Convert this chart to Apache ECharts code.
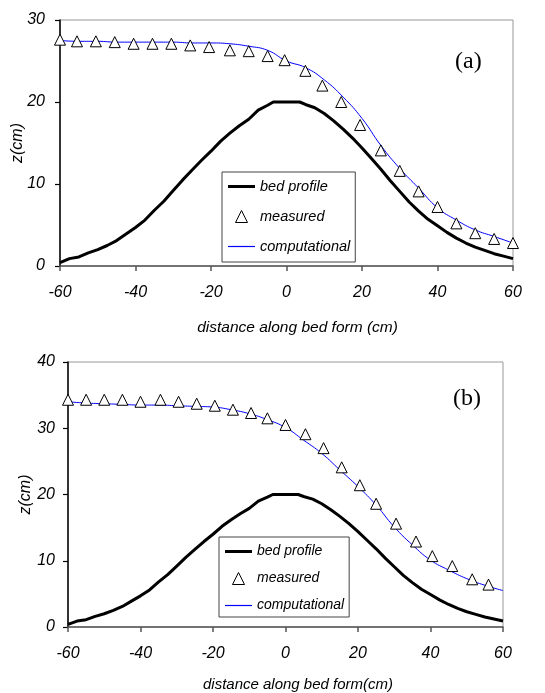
<!DOCTYPE html>
<html>
<head>
<meta charset="utf-8">
<script src="https://cdn.jsdelivr.net/npm/echarts@6/dist/echarts.min.js"></script>
<style>
html,body{margin:0;padding:0;background:#fff;}
#c{width:545px;height:693px;}
</style>
</head>
<body>
<div id="c"></div>
<script>
// ---- data ----
const xTicks = [-60, -40, -20, 0, 20, 40, 60];
const yTicksA = [0, 10, 20, 30];
const yTicksB = [0, 10, 20, 30, 40];

const bedX = [-60,-57.5,-55,-52.5,-50,-47.5,-45,-42.5,-40,-37.5,-35,-32.5,-30,-27.5,-25,-22.5,-20,-17.5,-15,-12.5,-10,-7.5,-5,-3.5,0,3.5,5,7.5,10,12.5,15,17.5,20,22.5,25,27.5,30,32.5,35,37.5,40,42.5,45,47.5,50,52.5,55,57.5,60];
const bedZ = [0.4,0.9,1.1,1.6,2.0,2.5,3.1,3.9,4.7,5.6,6.8,7.9,9.2,10.5,11.7,12.9,14.0,15.2,16.2,17.1,17.9,19.0,19.6,20,20,20,19.7,19.3,18.6,17.7,16.7,15.6,14.4,13.1,11.8,10.4,9.1,7.8,6.7,5.7,4.9,4.1,3.4,2.8,2.3,1.9,1.5,1.2,0.9];

const measXa = [-60,-55.5,-50.5,-45.5,-40.5,-35.5,-30.5,-25.5,-20.5,-15,-10,-5,-0.5,5,9.5,14.5,19.5,25,30,35,40,45,50,55,60];
const measZa = [27.6,27.4,27.4,27.3,27.1,27.1,27.1,26.9,26.7,26.3,26.2,25.6,25.1,23.8,22.0,20.0,17.2,14.1,11.6,9.1,7.2,5.2,4.0,3.3,2.8];

const compXa = [-60,-55,-50,-45,-40,-35,-30,-25,-20,-15,-10,-5,0,5,10,15,20,25,30,35,40,45,50,55,60];
const compZa = [27.5,27.4,27.4,27.3,27.3,27.3,27.3,27.2,27.2,27.1,26.8,26.3,25.0,24.2,22.7,20.6,18.0,14.7,11.9,9.5,7.1,5.6,4.4,3.6,2.8];

const measXb = [-60,-55,-50,-45,-40,-34.5,-29.5,-24.5,-19.5,-14.5,-9.5,-5,0,5.5,10.5,15.5,20.5,25,30.5,36,40.5,46,51.5,56];
const measZb = [34.3,34.3,34.3,34.3,34.0,34.3,34.0,33.7,33.4,32.8,32.3,31.5,30.5,29.1,27.0,24.1,21.4,18.6,15.6,12.9,10.7,9.2,7.2,6.4];

const compXb = [-60,-55,-50,-45,-40,-35,-30,-25,-20,-15,-10,-5,0,5,10,15,20,25,30,35,40,45,50,55,60];
const compZb = [34.0,33.8,33.7,33.6,33.5,33.5,33.4,33.3,33.2,32.8,32.2,31.3,30.1,28.2,26.2,23.7,21.2,18.4,15.1,12.4,10.1,8.6,7.3,6.3,5.5];

const seriesNames = ['bed profile', 'measured', 'computational'];

// ---- helpers ----
const zip = (xs, ys) => xs.map((x, i) => [x, ys[i]]);
const FONT = 'Liberation Sans, Arial, sans-serif';

function xAxisCfg(gridIndex, name, nameGap, fs, shift) {
  return {
    type: 'value', gridIndex, min: xTicks[0], max: xTicks[xTicks.length - 1], interval: 20,
    name, nameLocation: 'middle', nameGap, nameMoveOverlap: false,
    nameTextStyle: { fontFamily: FONT, fontStyle: 'italic', fontSize: fs, color: '#000', padding: [0, 0, 0, shift] },
    axisLine: { show: true, onZero: false, lineStyle: { color: '#555', width: 1.5 } },
    axisTick: { show: true, length: 5, inside: false, lineStyle: { color: '#555', width: 1.5 } },
    axisLabel: { fontFamily: FONT, fontStyle: 'italic', fontSize: 16, color: '#000', margin: 19 },
    splitLine: { show: false }
  };
}
function yAxisCfg(gridIndex, ticks, nameGap, margin) {
  return {
    type: 'value', gridIndex, min: ticks[0], max: ticks[ticks.length - 1], interval: 10,
    name: 'z(cm)', nameLocation: 'middle', nameGap, nameMoveOverlap: false,
    nameTextStyle: { fontFamily: FONT, fontStyle: 'italic', fontSize: 16, color: '#000' },
    axisLine: { show: true, onZero: false, lineStyle: { color: '#000', width: 1.5 } },
    axisTick: { show: true, length: 5, inside: false, lineStyle: { color: '#000', width: 1.2 } },
    axisLabel: { fontFamily: FONT, fontStyle: 'italic', fontSize: 16, color: '#000', margin },
    splitLine: { show: false }
  };
}
function seriesFor(idx, mx, mz, cx, cz) {
  return [
    { name: seriesNames[0], type: 'line', xAxisIndex: idx, yAxisIndex: idx, data: zip(bedX, bedZ),
      symbol: 'none', smooth: false, lineStyle: { color: '#000', width: 3 }, itemStyle: { color: '#000' }, z: 2 },
    { name: seriesNames[2], type: 'line', xAxisIndex: idx, yAxisIndex: idx, data: zip(cx, cz),
      symbol: 'none', smooth: true, lineStyle: { color: '#0000ff', width: 1 }, itemStyle: { color: '#0000ff' }, z: 3 },
    { name: seriesNames[1], type: 'scatter', xAxisIndex: idx, yAxisIndex: idx, data: zip(mx, mz),
      symbol: 'triangle', symbolSize: [11, 11],
      itemStyle: { color: '#fff', borderColor: '#000', borderWidth: 1, opacity: 1 }, z: 4 }
  ];
}
function legendCfg(left, top, gap, fs, pad) {
  return {
    orient: 'vertical', left, top, itemGap: gap, itemWidth: 27, itemHeight: 12,
    symbolKeepAspect: true,
    padding: pad, backgroundColor: '#fff', borderColor: '#444', borderWidth: 1, borderRadius: 0,
    selectedMode: false,
    textStyle: { fontFamily: FONT, fontStyle: 'italic', fontSize: fs, color: '#000', lineHeight: 15 },
    data: [
      { name: seriesNames[0], icon: 'path://M0,0H27V3H0Z', itemStyle: { color: '#000', borderWidth: 0 } },
      { name: seriesNames[1], icon: 'path://M6,0L12,12L0,12Z', itemStyle: { color: '#fff', borderColor: '#000', borderWidth: 1 } },
      { name: seriesNames[2], icon: 'path://M0,0H27V1.2H0Z', itemStyle: { color: '#0000ff', borderWidth: 0 } }
    ]
  };
}

const chart = echarts.init(document.getElementById('c'), null, { renderer: 'canvas' });
chart.setOption({
  backgroundColor: '#fff',
  animation: false,
  grid: [
    { left: 60, top: 20, width: 453, height: 246, show: true, borderColor: '#999', borderWidth: 1, backgroundColor: 'transparent' },
    { left: 68, top: 362, width: 435, height: 265, show: true, borderColor: '#999', borderWidth: 1, backgroundColor: 'transparent' }
  ],
  xAxis: [
    xAxisCfg(0, 'distance along bed form (cm)', 54, 15.5, 22),
    xAxisCfg(1, 'distance along bed form(cm)', 50, 15, 25)
  ],
  yAxis: [
    yAxisCfg(0, yTicksA, 34, 15),
    yAxisCfg(1, yTicksB, 34, 13)
  ],
  legend: [
    legendCfg(222, 172, 15, 14.5, [7, 5, 8, 6]),
    legendCfg(219, 537, 12, 14, [7, 5, 4, 6])
  ],
  graphic: [
    { type: 'text', left: 455, top: 50, style: { text: '(a)', font: '24px "Liberation Serif", "Times New Roman", serif', fill: '#000' } },
    { type: 'text', left: 453, top: 387, style: { text: '(b)', font: '24px "Liberation Serif", "Times New Roman", serif', fill: '#000' } }
  ],
  series: [].concat(
    seriesFor(0, measXa, measZa, compXa, compZa),
    seriesFor(1, measXb, measZb, compXb, compZb)
  )
});
</script>
</body>
</html>
